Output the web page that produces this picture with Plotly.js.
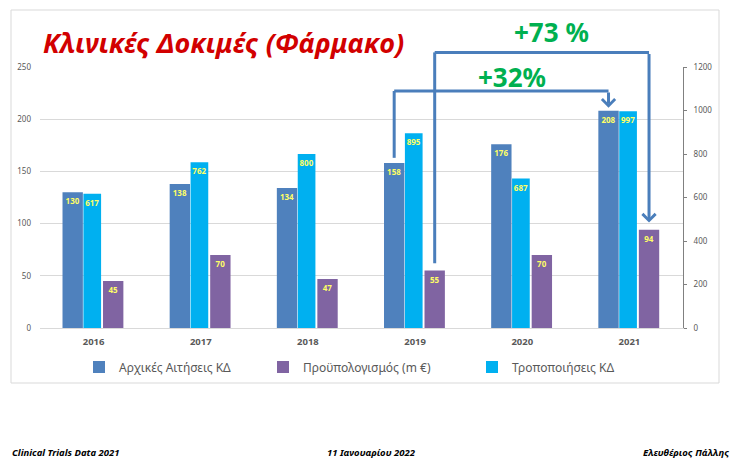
<!DOCTYPE html>
<html><head><meta charset="utf-8">
<script src="https://cdn.plot.ly/plotly-3.0.1.min.js"></script>
<style>html,body{margin:0;padding:0;background:#fff}#chart{width:743px;height:469px}</style>
</head><body><div id="chart"></div>
<script>
// ---- data ----
const years = ['2016', '2017', '2018', '2019', '2020', '2021'];
const initialApplications = [130, 138, 134, 158, 176, 208];
const budget = [45, 70, 47, 55, 70, 94];
const amendments = [617, 762, 800, 895, 687, 997];
const seriesNames = ['Αρχικές Αιτήσεις ΚΔ', 'Προϋπολογισμός (m €)', 'Τροποποιήσεις ΚΔ'];
const titleText = 'Κλινικές Δοκιμές (Φάρμακο)';
const growthLabels = ['+32%', '+73 %'];
const footerTexts = ['Clinical Trials Data 2021', '11 Ιανουαρίου 2022', 'Ελευθέριος Πάλλης'];

// ---- styling / geometry ----
const W = 743, H = 469;
const M = {l: 40, r: 60, t: 67, b: 141};
const PW = W - M.l - M.r, PH = H - M.t - M.b;
const px = x => (x - M.l) / PW;
const py = y => (H - M.b - y) / PH;
const Y1MAX = 250, Y2MAX = 1200;
const FONT = 'Noto Sans';
const cBlue = '#4f81bd', cPurple = '#8064a2', cCyan = '#00b0f0', cArrow = '#4a7ebb', cGreen = '#00b050';
const bars = {
  blue:   {offset: -0.29,  width: 0.19},
  cyan:   {offset: -0.095, width: 0.165},
  purple: {offset: 0.088,  width: 0.19}
};
const labelFont = {family: FONT, size: 8, color: '#ffff66', weight: 'bold'};

function barTrace(name, values, color, geom, yaxis, legend) {
  return {
    type: 'bar', x: years, y: values, name: name, yaxis: yaxis,
    marker: {color: color, line: {width: 0}},
    offset: geom.offset, width: geom.width,
    text: values.map(String), textposition: 'inside', insidetextanchor: 'end',
    textangle: 0, insidetextfont: labelFont, constraintext: 'none',
    legend: legend, hoverinfo: 'x+y+name'
  };
}

const traces = [
  barTrace(seriesNames[0], initialApplications, cBlue, bars.blue, 'y', 'legend'),
  barTrace(seriesNames[1], budget, cPurple, bars.purple, 'y', 'legend2'),
  barTrace(seriesNames[2], amendments, cCyan, bars.cyan, 'y2', 'legend3')
];

// arrows anchored on bars: category position -> paper x, left-axis value -> paper y (not clipped)
const xPaper = (idx, c) => (idx + c + 0.5) / years.length;
const yPaper = v => v / Y1MAX;
const blueC = bars.blue.offset + bars.blue.width / 2;
const purpleC = bars.purple.offset + bars.purple.width / 2;
const i19 = years.indexOf('2019'), i21 = years.indexOf('2021');
const arrowLevel1 = 227, arrowLevel2 = 264;
const arrowLine = {color: cArrow, width: 3};
const shapes = [
  // chart frame
  {type: 'rect', xref: 'paper', yref: 'paper', x0: px(11), x1: px(719), y0: py(383), y1: py(10),
   line: {color: '#d9d9d9', width: 1}, fillcolor: 'rgba(0,0,0,0)', layer: 'below'},
  // arrow 1 (2019 applications -> 2021 applications)
  {type: 'line', xref: 'paper', yref: 'paper', x0: xPaper(i19, blueC), x1: xPaper(i19, blueC),
   y0: yPaper(initialApplications[i19] + 5), y1: yPaper(arrowLevel1), line: arrowLine},
  {type: 'line', xref: 'paper', yref: 'paper', x0: xPaper(i19, blueC), x1: xPaper(i21, blueC),
   y0: yPaper(arrowLevel1), y1: yPaper(arrowLevel1), line: arrowLine},
  // arrow 2 (2019 budget -> 2021 budget)
  {type: 'line', xref: 'paper', yref: 'paper', x0: xPaper(i19, purpleC), x1: xPaper(i19, purpleC),
   y0: yPaper(budget[i19] + 7), y1: yPaper(arrowLevel2), line: arrowLine},
  {type: 'line', xref: 'paper', yref: 'paper', x0: xPaper(i19, purpleC), x1: xPaper(i21, purpleC),
   y0: yPaper(arrowLevel2), y1: yPaper(arrowLevel2), line: arrowLine}
];

const footFont = {family: FONT, size: 9.5, color: '#000', weight: 'bold', style: 'italic'};
const greenFont = {family: FONT, size: 26, color: cGreen, weight: 'bold'};
const annotations = [
  {xref: 'paper', yref: 'paper', axref: 'paper', ayref: 'paper',
   x: xPaper(i21, blueC), y: yPaper(initialApplications[i21] + 3),
   ax: xPaper(i21, blueC), ay: yPaper(arrowLevel1), showarrow: true, arrowhead: 4, arrowsize: 0.85, arrowwidth: 3,
   arrowcolor: cArrow, text: '', standoff: 0},
  {xref: 'paper', yref: 'paper', axref: 'paper', ayref: 'paper',
   x: xPaper(i21, purpleC), y: yPaper(budget[i21] + 7),
   ax: xPaper(i21, purpleC), ay: yPaper(arrowLevel2), showarrow: true, arrowhead: 4, arrowsize: 0.85, arrowwidth: 3,
   arrowcolor: cArrow, text: '', standoff: 0},
  {xref: 'paper', yref: 'paper', x: px(512), y: py(77), xanchor: 'center', yanchor: 'middle',
   text: growthLabels[0], showarrow: false, font: greenFont},
  {xref: 'paper', yref: 'paper', x: px(551), y: py(32), xanchor: 'center', yanchor: 'middle',
   text: growthLabels[1], showarrow: false, font: greenFont},
  {xref: 'paper', yref: 'paper', x: px(10), y: py(452), xanchor: 'left', yanchor: 'middle',
   text: footerTexts[0], showarrow: false, font: footFont},
  {xref: 'paper', yref: 'paper', x: px(371), y: py(452), xanchor: 'center', yanchor: 'middle',
   text: footerTexts[1], showarrow: false, font: footFont},
  {xref: 'paper', yref: 'paper', x: px(731), y: py(452), xanchor: 'right', yanchor: 'middle',
   text: footerTexts[2], showarrow: false, font: footFont}
];

const legendBase = {orientation: 'h', yanchor: 'middle', y: py(367), xanchor: 'left',
  font: {family: FONT, size: 12, color: '#595959'}, bgcolor: 'rgba(0,0,0,0)', itemwidth: 30, itemclick: false};

const layout = {
  width: W, height: H, margin: M, paper_bgcolor: '#fff', plot_bgcolor: '#fff',
  barmode: 'overlay', showlegend: true,
  font: {family: FONT, color: '#595959'},
  title: {text: titleText, xref: 'container', yref: 'container', x: 43 / W, xanchor: 'left',
    y: 1 - 44 / H, yanchor: 'middle',
    font: {family: FONT, size: 27, color: '#d20000', weight: 'bold', style: 'italic'}},
  xaxis: {type: 'category', showgrid: false, showline: true, linecolor: '#d9d9d9', linewidth: 1,
    ticks: '', tickfont: {family: FONT, size: 9.5, color: '#595959', weight: 'bold'}, ticklabelstandoff: 5,
    zeroline: false, fixedrange: true},
  yaxis: {range: [0, Y1MAX], dtick: 50, showgrid: true, gridcolor: '#d9d9d9', gridwidth: 1, zeroline: false,
    showline: false, ticks: '', tickfont: {family: FONT, size: 8, color: '#595959'}, ticklabelstandoff: 8,
    fixedrange: true},
  yaxis2: {range: [0, Y2MAX], dtick: 200, overlaying: 'y', side: 'right', showgrid: false, zeroline: false,
    showline: true, linecolor: '#808080', linewidth: 1, ticks: 'outside', ticklen: 3, tickcolor: '#808080',
    tickfont: {family: FONT, size: 8, color: '#595959'}, ticklabelstandoff: 5, fixedrange: true},
  legend: Object.assign({}, legendBase, {x: px(119 - 40)}),
  legend2: Object.assign({}, legendBase, {x: px(303 - 40)}),
  legend3: Object.assign({}, legendBase, {x: px(512 - 40)}),
  shapes: shapes, annotations: annotations
};

Plotly.newPlot('chart', traces, layout, {displayModeBar: false});
</script>
</body></html>
